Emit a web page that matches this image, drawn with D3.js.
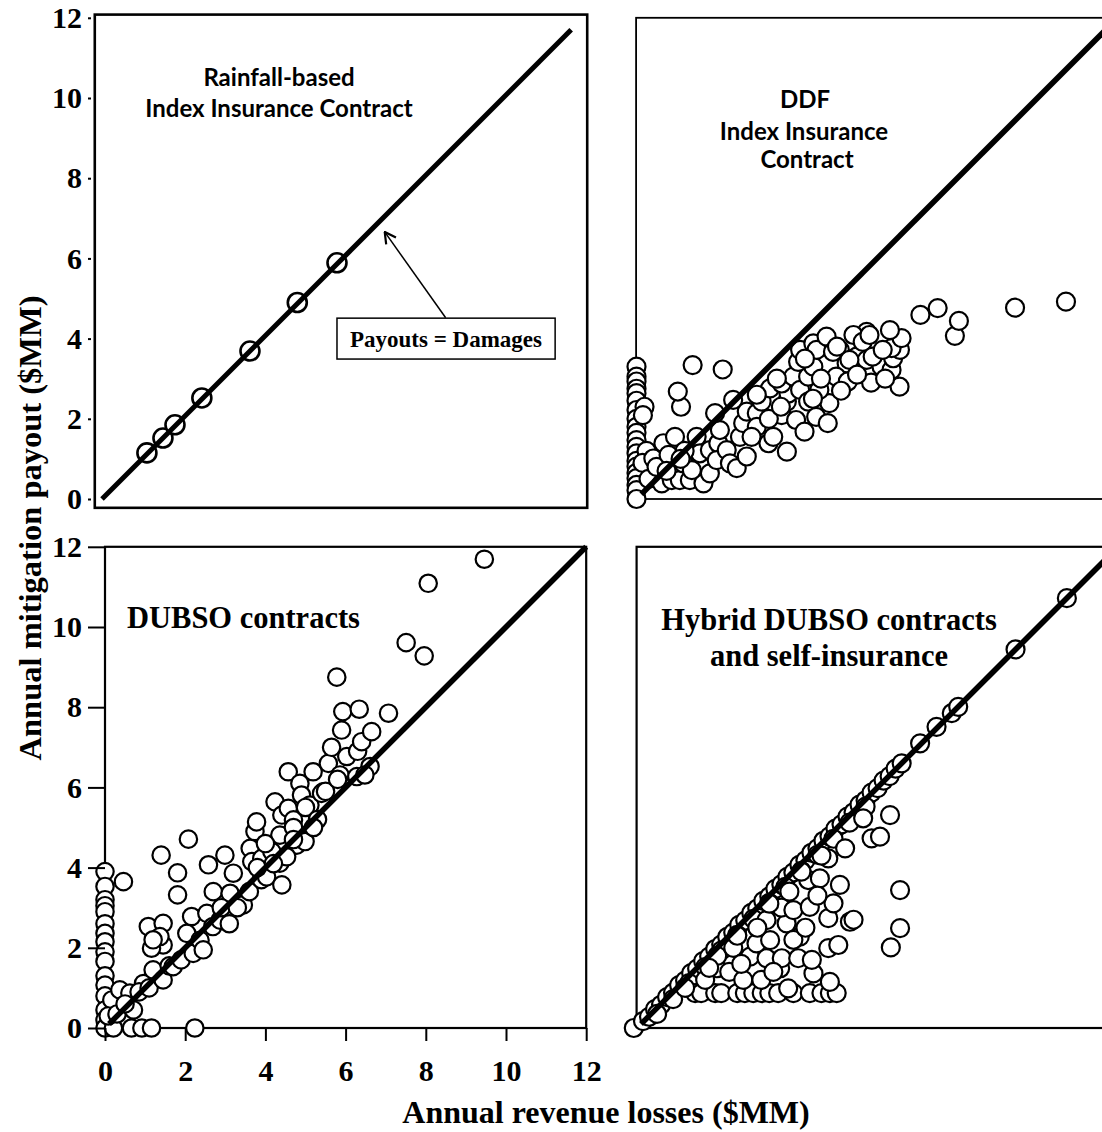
<html>
<head>
<meta charset="utf-8">
<style>
    body { margin: 0; background: #fff; }
    svg { display: block; }
    .tick text { font-family: "Liberation Serif", "Times New Roman", serif; font-weight: bold; font-size: 30px; fill: #000; }
    .tick line { stroke: #000; stroke-width: 2px; }
    .serif { font-family: "Liberation Serif", "Times New Roman", serif; font-weight: bold; fill: #000; }
    .sans { font-family: Lato, "Open Sans", sans-serif; font-weight: bold; fill: #000; }
</style>
</head>
<body>
<svg id="chart" width="1102" height="1132"></svg>
<script src="https://d3js.org/d3.v7.min.js"></script>
<script>
    // ---- data ($MM) ----
    var ticks = [0, 2, 4, 6, 8, 10, 12];

    var rainfallPts = [[1.12, 1.15], [1.52, 1.52], [1.82, 1.85], [2.49, 2.52], [3.69, 3.69], [4.87, 4.90], [5.86, 5.89]];

    var ddfPts = [
        [0, 3.30], [0, 3.05], [0, 2.93], [0, 2.75], [0, 2.64], [0, 2.45], [0, 2.22], [0, 2.00], [0, 1.80], [0, 1.65],
        [0, 1.47], [0, 1.30], [0, 1.14], [0, 0.95], [0, 0.81], [0, 0.65], [0, 0.52], [0, 0.35], [0, 0.22], [0, 0.0],
        [0.2, 2.30], [0.16, 2.09], [0.25, 1.2], [0.15, 0.9], [0.3, 0.5],
        [0.42, 1.01], [0.67, 1.39], [0.63, 0.39], [0.88, 0.47], [1.08, 0.47], [1.33, 0.47], [1.67, 0.39], [1.83, 0.64],
        [1.17, 0.89], [1.38, 0.72], [0.96, 1.55], [1.50, 1.55], [1.58, 1.14], [1.83, 1.22], [2.04, 1.39], [2.00, 0.97],
        [2.25, 1.22], [2.33, 0.89], [2.50, 0.77], [2.75, 1.06], [2.58, 1.55], [2.08, 1.72], [1.96, 2.14], [2.41, 2.47],
        [0.5, 0.8], [0.8, 1.1], [1.2, 1.2], [0.75, 0.7], [1.1, 1.0],
        [1.11, 2.30], [1.03, 2.68], [1.40, 3.34], [2.15, 3.23],
        [2.66, 1.89], [2.75, 2.18], [3.00, 2.14], [3.00, 1.80], [2.87, 1.55], [3.29, 1.39], [3.41, 1.55], [3.75, 1.18],
        [3.12, 2.43], [3.33, 2.76], [3.62, 2.09], [3.75, 2.43], [3.79, 2.63], [3.62, 2.88], [3.91, 3.05], [4.08, 2.72],
        [4.28, 2.43], [4.28, 3.05], [4.03, 3.42], [4.08, 3.72], [4.41, 3.88], [4.41, 3.30], [4.49, 3.72], [4.74, 4.05],
        [5.07, 3.72], [5.24, 3.38], [5.49, 3.55], [5.74, 3.47], [6.11, 3.30], [6.36, 3.22], [6.40, 3.51], [6.57, 3.72],
        [6.36, 3.76], [6.61, 4.01], [6.32, 4.21], [5.74, 4.17], [5.41, 4.09], [5.64, 3.92], [5.81, 4.09],
        [3.98, 1.97], [4.19, 1.68], [4.48, 2.05], [4.77, 1.89], [4.81, 2.39], [4.56, 2.72], [4.98, 3.05], [5.27, 2.93],
        [5.85, 2.90], [6.56, 2.80], [4.90, 3.67], [5.31, 3.47], [5.89, 3.55], [6.14, 3.72], [4.2, 3.5], [5.0, 3.8],
        [5.5, 3.1], [4.6, 3.0], [3.3, 2.0], [3.6, 2.3], [4.4, 2.5], [5.1, 2.7], [6.2, 3.0], [3.5, 3.0], [3.0, 2.6],
        [7.08, 4.59], [7.51, 4.76], [7.94, 4.07], [8.04, 4.44], [9.44, 4.77], [10.71, 4.92]
    ];

    var dubsoPts = [
        [0, 3.90], [0, 3.53], [0, 3.2], [0, 3.05], [0, 2.90], [0, 2.6], [0, 2.36], [0, 2.15], [0, 1.9], [0, 1.66],
        [0, 1.3], [0, 1.07], [0, 0.8], [0, 0.45], [0, 0.2], [0, 0],
        [0.46, 3.65], [0.17, 0.70], [0.21, 0], [0.66, 0], [0.92, 0], [1.16, 0], [2.24, 0], [0.08, 0.3], [0.3, 0.35],
        [0.37, 0.95], [0.62, 0.87], [0.71, 0.45], [0.96, 1.11], [1.29, 1.36], [0.5, 0.6], [0.85, 0.9], [1.1, 1.0],
        [1.2, 1.45], [1.45, 1.2], [1.6, 1.55], [1.70, 1.53], [1.9, 1.7],
        [1.08, 2.53], [1.45, 2.61], [1.45, 2.07], [1.16, 1.99], [1.37, 2.28], [1.2, 2.2], [1.40, 4.31], [2.08, 4.71],
        [1.81, 3.87], [1.81, 3.32], [2.58, 4.07], [2.99, 4.31],
        [2.16, 2.78], [2.04, 2.36], [2.20, 1.86], [2.37, 2.19], [2.45, 1.95], [2.54, 2.86], [2.69, 2.53], [2.70, 3.40],
        [2.87, 2.69], [3.12, 3.36], [3.20, 3.86], [3.45, 3.07], [2.9, 3.0], [3.1, 2.6], [3.3, 3.0], [3.6, 3.4],
        [3.62, 4.48], [3.66, 4.15], [3.74, 4.90], [3.78, 5.14], [3.91, 4.23], [3.9, 3.7], [4.03, 3.77], [4.16, 4.40],
        [4.24, 5.64], [4.36, 4.81], [4.36, 4.11], [4.41, 5.31], [4.41, 3.57], [4.57, 5.48], [4.57, 6.39], [4.70, 5.19],
        [4.78, 4.56], [4.99, 4.65], [4.86, 6.10], [4.90, 5.81], [5.11, 5.56], [5.19, 6.39], [5.44, 5.89], [5.57, 6.60],
        [5.65, 7.00], [5.86, 6.31], [5.90, 7.43], [5.93, 7.89], [6.03, 6.77], [6.3, 6.9], [6.34, 7.95], [6.40, 7.14],
        [6.61, 6.52], [6.65, 7.39], [6.28, 6.27], [6.48, 6.31], [5.40, 5.85], [4.53, 4.27], [4.0, 4.6], [3.8, 4.0],
        [4.7, 5.0], [5.0, 5.5], [5.3, 5.2], [4.7, 4.7], [5.5, 5.9], [5.8, 6.2], [5.2, 5.0], [4.2, 4.1],
        [5.78, 8.75], [7.07, 7.85], [7.51, 9.61], [7.96, 9.28], [8.06, 11.09], [9.46, 11.69]
    ];

    var hybridPts = [
        [-0.08, 0.0], [0.15, 0.17], [0.3, 0.28], [0.45, 0.47], [0.6, 0.58], [0.75, 0.77], [0.9, 0.88], [1.05, 1.07],
        [1.2, 1.18], [1.35, 1.37], [1.5, 1.48], [1.65, 1.67], [1.8, 1.78], [1.95, 1.97], [2.1, 2.08], [2.25, 2.27],
        [2.4, 2.38], [2.55, 2.57], [2.7, 2.68], [2.85, 2.87], [3.0, 2.98], [3.15, 3.17], [3.3, 3.28], [3.45, 3.47],
        [3.6, 3.58], [3.75, 3.77], [3.9, 3.88], [4.05, 4.07], [4.2, 4.18], [4.35, 4.37], [4.5, 4.48], [4.65, 4.67],
        [4.8, 4.78], [4.95, 4.97], [5.1, 5.08], [5.25, 5.27], [5.4, 5.38], [5.55, 5.57], [5.7, 5.68], [5.85, 5.87],
        [6.0, 5.98], [6.15, 6.17], [6.3, 6.28], [6.45, 6.47], [6.6, 6.6],
        [0.5, 0.35], [0.9, 0.72], [1.3, 1.12], [1.7, 1.52], [2.1, 1.93], [2.5, 2.32], [2.9, 2.72], [3.3, 3.12],
        [3.7, 3.52], [4.1, 3.92], [4.5, 4.32], [4.9, 4.72], [5.3, 5.12], [5.7, 5.52],
        [7.06, 7.10], [7.47, 7.51], [7.85, 7.85], [8.01, 8.01], [9.44, 9.44], [10.72, 10.72],
        [1.45, 0.87], [1.6, 0.87], [1.95, 0.87], [2.1, 0.87], [2.5, 0.87], [2.69, 0.87], [2.9, 0.87], [3.11, 0.87],
        [3.3, 0.87], [3.52, 0.87], [3.9, 0.87], [4.31, 0.87], [4.6, 0.87], [4.81, 0.87], [4.98, 0.87],
        [1.99, 1.49], [2.3, 1.4], [2.65, 1.20], [3.1, 1.2], [3.57, 1.49], [3.77, 0.99], [4.40, 1.36], [4.81, 1.15],
        [2.82, 1.78], [3.23, 1.74], [3.61, 1.74], [4.02, 1.74], [4.36, 1.70], [2.98, 2.11], [3.32, 2.19], [4.06, 2.28],
        [4.77, 1.99], [5.02, 2.07], [3.23, 2.69], [3.73, 2.61], [4.77, 2.74], [5.31, 2.65], [5.4, 2.7], [3.6, 3.0],
        [3.90, 2.94], [4.31, 3.02], [4.90, 3.11], [4.27, 3.69], [4.56, 3.73], [5.06, 3.57], [4.77, 4.23], [5.19, 4.48],
        [5.64, 5.23], [5.85, 4.73], [6.06, 4.77], [6.31, 5.31], [6.56, 3.44], [6.56, 2.49], [6.33, 2.01],
        [1.2, 1.0], [1.7, 1.2], [2.0, 1.8], [2.4, 2.0], [2.6, 1.6], [3.0, 2.5], [3.4, 1.4], [3.9, 2.2], [4.2, 2.5],
        [4.5, 3.3], [3.3, 3.1], [2.5, 2.3], [1.8, 1.5], [3.8, 3.4], [4.1, 3.9], [4.6, 4.3]
    ];

    // ---- layout ----
    var k = 40.1; // px per $MM
    var svg = d3.select("#chart");

    function panel(opt) {
        var x = d3.scaleLinear().domain([0, 12]).range([opt.x0, opt.x0 + 12 * k]);
        var y = d3.scaleLinear().domain([0, 12]).range([opt.y0, opt.y0 - 12 * k]);
        var g = svg.append("g");

        g.append("rect")
            .attr("x", x(opt.fx[0])).attr("y", y(opt.fy[1]))
            .attr("width", x(opt.fx[1]) - x(opt.fx[0]))
            .attr("height", y(opt.fy[0]) - y(opt.fy[1]))
            .attr("fill", "none").attr("stroke", "#000").attr("stroke-width", opt.frameW);

        g.selectAll("circle").data(opt.pts).enter().append("circle")
            .attr("cx", function (d) { return x(d[0]); })
            .attr("cy", function (d) { return y(d[1]); })
            .attr("r", opt.r)
            .attr("fill", "#fff").attr("stroke", "#000").attr("stroke-width", opt.cw);

        g.append("line")
            .attr("x1", x(opt.line[0])).attr("y1", y(opt.line[0]))
            .attr("x2", x(opt.line[1])).attr("y2", y(opt.line[1]))
            .attr("stroke", "#000").attr("stroke-width", opt.lineW);

        return { x: x, y: y, g: g };
    }

    var tl = panel({ x0: 102, y0: 499, fx: [-0.18, 12.1], fy: [-0.22, 12.08], frameW: 2.6, pts: rainfallPts, r: 9.5, cw: 2.6, line: [0, 11.7], lineW: 5 });
    var tr = panel({ x0: 636.5, y0: 499, fx: [-0.01, 12.5], fy: [0, 12], frameW: 1.8, pts: ddfPts, r: 9, cw: 2.2, line: [0.12, 12], lineW: 5.5 });
    var bl = panel({ x0: 105, y0: 1028, fx: [0, 12], fy: [0, 12], frameW: 2.2, pts: dubsoPts, r: 8.7, cw: 2.2, line: [0.1, 12], lineW: 5.5 });
    var br = panel({ x0: 637, y0: 1028, fx: [-0.01, 12.5], fy: [0, 12], frameW: 2.2, pts: hybridPts, r: 9, cw: 2.2, line: [0.1, 12], lineW: 5.5 });

    // axes
    var ax1 = svg.append("g").attr("transform", "translate(91,0)")
        .call(d3.axisLeft(tl.y).tickValues(ticks).tickSize(3).tickPadding(6));
    ax1.select(".domain").remove();

    var ax2 = svg.append("g").attr("transform", "translate(105,0)")
        .call(d3.axisLeft(bl.y).tickValues(ticks).tickSize(17).tickPadding(6));
    ax2.select(".domain").remove();

    var ax3 = svg.append("g").attr("transform", "translate(0,1028)")
        .call(d3.axisBottom(bl.x).tickValues(ticks).tickSize(13).tickPadding(19));
    ax3.select(".domain").remove();

    // axis titles
    svg.append("text").attr("class", "serif")
        .attr("transform", "translate(41,528) rotate(-90)")
        .attr("text-anchor", "middle").style("font-size", "32.5px")
        .text("Annual mitigation payout ($MM)");

    svg.append("text").attr("class", "serif")
        .attr("x", 606).attr("y", 1123)
        .attr("text-anchor", "middle").style("font-size", "32px")
        .text("Annual revenue losses ($MM)");

    // panel labels
    var rainTitle = svg.append("text").attr("class", "sans").attr("text-anchor", "middle").style("font-size", "24px");
    rainTitle.append("tspan").attr("x", 279).attr("y", 86).text("Rainfall-based");
    rainTitle.append("tspan").attr("x", 279).attr("y", 117).text("Index Insurance Contract");

    var ddfTitle = svg.append("text").attr("class", "sans").attr("text-anchor", "middle").style("font-size", "24px");
    ddfTitle.append("tspan").attr("x", 805).attr("y", 108).text("DDF");
    ddfTitle.append("tspan").attr("x", 804).attr("y", 140).text("Index Insurance");
    ddfTitle.append("tspan").attr("x", 807).attr("y", 168).text("Contract");

    svg.append("text").attr("class", "serif").attr("x", 127).attr("y", 628)
        .style("font-size", "30.5px").text("DUBSO contracts");

    var hyTitle = svg.append("text").attr("class", "serif").attr("text-anchor", "middle").style("font-size", "30.5px");
    hyTitle.append("tspan").attr("x", 829).attr("y", 630).text("Hybrid DUBSO contracts");
    hyTitle.append("tspan").attr("x", 829).attr("y", 666).text("and self-insurance");

    // annotation: Payouts = Damages
    svg.append("defs").append("marker")
        .attr("id", "arr").attr("viewBox", "0 -7 14 14")
        .attr("refX", 1).attr("refY", 0)
        .attr("markerWidth", 14).attr("markerHeight", 14)
        .attr("markerUnits", "userSpaceOnUse")
        .attr("orient", "auto")
        .append("path").attr("d", "M12,-6L1,0L12,6")
        .attr("fill", "none").attr("stroke", "#000").attr("stroke-width", 2.2);

    svg.append("line")
        .attr("x1", tl.x(7.05)).attr("y1", tl.y(6.66))
        .attr("x2", tl.x(8.57)).attr("y2", tl.y(4.52))
        .attr("stroke", "#000").attr("stroke-width", 1.5)
        .attr("marker-start", "url(#arr)");

    svg.append("rect")
        .attr("x", tl.x(5.86)).attr("y", tl.y(4.51))
        .attr("width", tl.x(11.3) - tl.x(5.86)).attr("height", tl.y(3.49) - tl.y(4.51))
        .attr("fill", "#fff").attr("stroke", "#000").attr("stroke-width", 1.5);

    svg.append("text").attr("class", "serif")
        .attr("x", 446).attr("y", 347).attr("text-anchor", "middle")
        .style("font-size", "23px").text("Payouts = Damages");
</script>
</body>
</html>
